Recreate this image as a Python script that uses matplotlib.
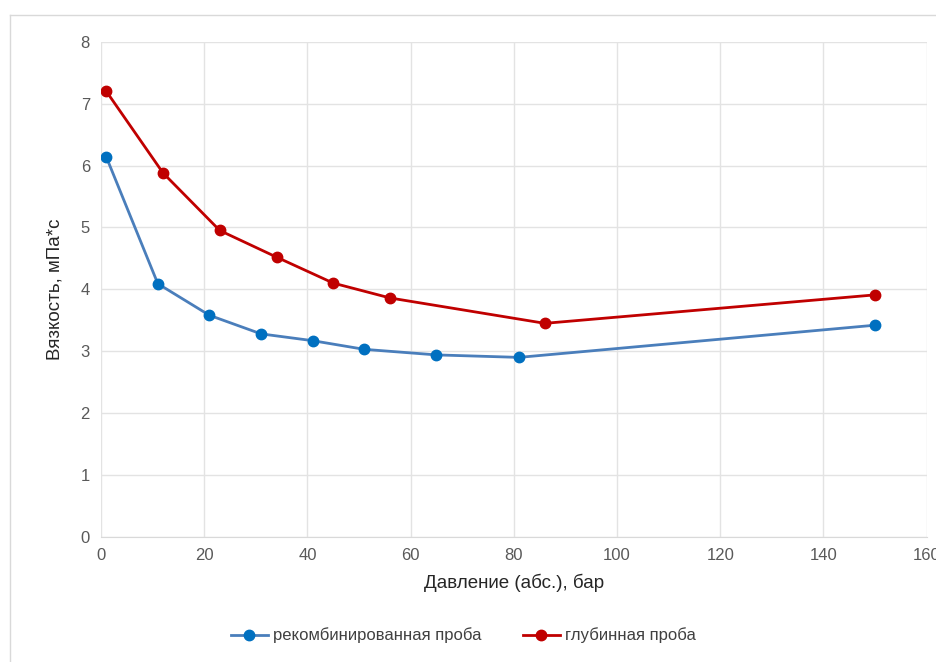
import matplotlib
matplotlib.use("Agg")
import matplotlib.pyplot as plt
from matplotlib.lines import Line2D
from matplotlib import font_manager

fams = {f.name for f in font_manager.fontManager.ttflist}
base = "Liberation Sans Narrow" if "Liberation Sans Narrow" in fams else "Liberation Sans"
plt.rcParams['font.family'] = [base, 'DejaVu Sans']

x_rec = [1, 11, 21, 31, 41, 51, 65, 81, 150]
y_rec = [6.14, 4.09, 3.58, 3.28, 3.17, 3.03, 2.94, 2.90, 3.42]
x_deep = [1, 12, 23, 34, 45, 56, 86, 150]
y_deep = [7.20, 5.88, 4.95, 4.52, 4.10, 3.86, 3.45, 3.91]
series_names = ["рекомбинированная проба", "глубинная проба"]
xlabel = "Давление (абс.), бар"
ylabel = "Вязкость, мПа*с"

fig = plt.figure(figsize=(9.36, 6.62), dpi=100)
ax = fig.add_axes([0.108, 0.189, 0.882, 0.748])

ax.plot(x_rec, y_rec, color="#4a7ebb", lw=2.0, marker="o", ms=7.5,
        mfc="#0070C0", mec="#0070C0", label=series_names[0], zorder=3)
ax.plot(x_deep, y_deep, color="#C00000", lw=2.0, marker="o", ms=7.5,
        mfc="#C00000", mec="#C00000", label=series_names[1], zorder=3)

ax.set_xlim(0, 160)
ax.set_ylim(0, 8)
ax.set_xticks(range(0, 161, 20))
ax.set_yticks(range(0, 9, 1))
ax.grid(True, color="#e3e3e3", lw=1)
ax.set_axisbelow(True)
for s in ["top", "right", "left"]:
    ax.spines[s].set_visible(False)
ax.spines["bottom"].set_color("#d9d9d9")
ax.tick_params(length=0, labelsize=12, colors="#595959", pad=8)
ax.set_xlabel(xlabel, fontsize=13.5, color="#262626", labelpad=8)
ax.set_ylabel(ylabel, fontsize=13.5, color="#262626", labelpad=12)

leg = fig.legend(loc="center", bbox_to_anchor=(0.495, 0.04), ncol=2, frameon=False,
                 fontsize=12, handlelength=2.2, columnspacing=2.5, handletextpad=0.3)
for t in leg.get_texts():
    t.set_color("#404040")

fig.add_artist(Line2D([10/936, 10/936], [0, 1-15/662], transform=fig.transFigure, color="#d9d9d9", lw=1))
fig.add_artist(Line2D([10/936, 1], [1-15/662, 1-15/662], transform=fig.transFigure, color="#d9d9d9", lw=1))

fig.savefig("out.png", dpi=100)
